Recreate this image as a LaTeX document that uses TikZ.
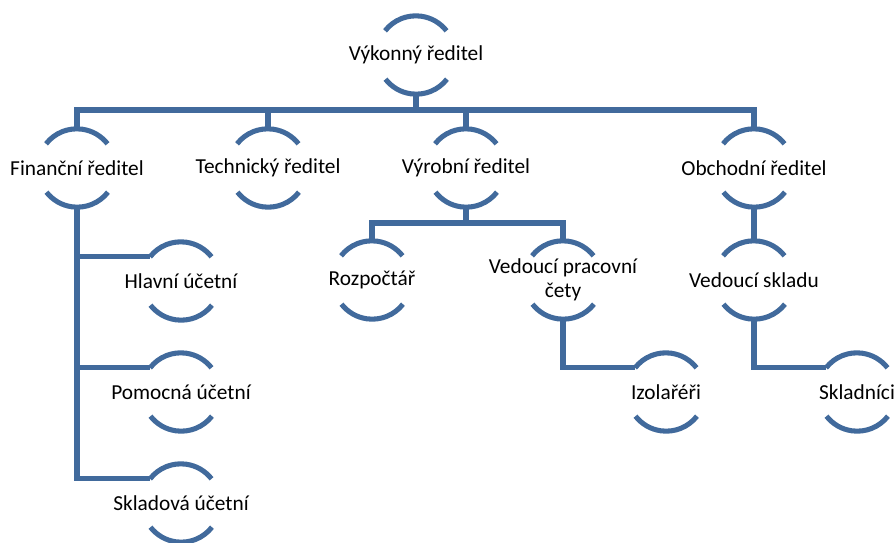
\documentclass[tikz,border=0pt]{standalone}
\usepackage{fontspec}
\setmainfont{Carlito}
\usetikzlibrary{calc}

\definecolor{smartblue}{RGB}{65,106,156}

\tikzset{
  persona/.style={circle, minimum size=58.5pt, inner sep=0pt},
  caption/.style={font=\fontsize{16}{18}\selectfont, align=center, inner sep=0pt},
  link/.style={draw=smartblue, line width=3.8pt},
}

\begin{document}
\begin{tikzpicture}[x=0.75pt,y=0.75pt]
		\useasboundingbox (0,0) rectangle (895,-542);
		
		% level 0 and 1
		\node[persona, label={[caption]center:Výkonný ředitel}] (ceo) at (416,-55) {};
		\node[persona, label={[caption]center:Finanční ředitel}] (fin) at (77,-168) {};
		\node[persona, label={[caption]center:Technický ředitel}] (tech) at (268,-168) {};
		\node[persona, label={[caption]center:Výrobní ředitel}] (prod) at (466,-168) {};
		\node[persona, label={[caption]center:Obchodní ředitel}] (sales) at (754,-168) {};
		
		% level 2 and 3
		\node[persona, label={[caption]center:Hlavní účetní}] (acc1) at (181,-281) {};
		\node[persona, label={[caption]center:Pomocná účetní}] (acc2) at (181,-392) {};
		\node[persona, label={[caption]center:Skladová účetní}] (acc3) at (181,-503) {};
		\node[persona, label={[caption]center:Rozpočtář}] (budget) at (372,-280) {};
		\node[persona, label={[caption]center:Vedoucí pracovní\\čety}] (crew) at (563,-280) {};
		\node[persona, label={[caption]center:Izolařéři}] (insul) at (666,-392) {};
		\node[persona, label={[caption]center:Vedoucí skladu}] (whouse) at (754,-280) {};
		\node[persona, label={[caption]center:Skladníci}] (store) at (857,-392) {};
		
		% the two arcs of every node
		\foreach \n in {ceo,fin,tech,prod,sales,acc1,acc2,acc3,budget,crew,insul,whouse,store}{
			\draw[link] (\n.142) arc[start angle=142, end angle=38, radius=39];
			\draw[link] (\n.-38) arc[start angle=-38, end angle=-142, radius=39];
		}
		
		% connectors
		\coordinate (bus) at (0,-110);
		\coordinate (prodbus) at (0,-223);
		\draw[link] (ceo.south) -- (ceo.south |- bus);
		\draw[link] (fin.north) |- (sales.north |- bus) -- (sales.north);
		\foreach \n in {tech,prod}{
			\draw[link] (\n.north) -- (\n.north |- bus);
		}
		\draw[link] (fin.south) |- (acc3.142);
		\foreach \n in {acc1,acc2}{
			\draw[link] (fin.south |- \n.142) -- (\n.142);
		}
		\draw[link] (prod.south) -- (prod.south |- prodbus);
		\draw[link] (budget.north) |- (crew.north |- prodbus) -- (crew.north);
		\draw[link] (crew.south) |- (insul.142);
		\draw[link] (sales.south) -- (whouse.north);
		\draw[link] (whouse.south) |- (store.142);
	\end{tikzpicture}
\end{document}
